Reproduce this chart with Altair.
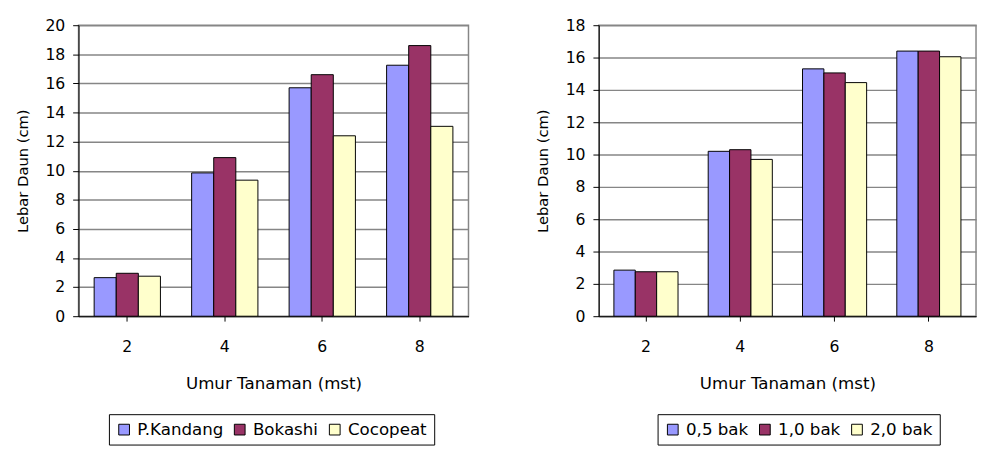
import altair as alt
import pandas as pd

weeks = ["2", "4", "6", "8"]

pupuk = ["P.Kandang", "Bokashi", "Cocopeat"]
p_kandang = [2.65, 9.85, 15.7, 17.25]
bokashi = [2.95, 10.9, 16.6, 18.6]
cocopeat = [2.75, 9.35, 12.4, 13.05]

dosis = ["0,5 bak", "1,0 bak", "2,0 bak"]
d05 = [2.85, 10.2, 15.3, 16.4]
d10 = [2.75, 10.3, 15.05, 16.4]
d20 = [2.75, 9.7, 14.45, 16.05]

colors = ["#9999FF", "#993366", "#FFFFCC"]
FONT = "DejaVu Sans"


def long_df(names, series):
    rows = []
    for name, vals in zip(names, series):
        for w, v in zip(weeks, vals):
            rows.append({"umur": w, "seri": name, "nilai": v})
    return pd.DataFrame(rows)


def panel(df, names, ymax, width, lx):
    return alt.Chart(df).mark_bar(stroke="black", strokeWidth=1).encode(
        x=alt.X("umur:N", sort=weeks, title="Umur Tanaman (mst)",
                scale=alt.Scale(paddingInner=0.32, paddingOuter=0.16),
                axis=alt.Axis(labelAngle=0, domainColor="black", tickColor="black",
                              tickSize=5, labelPadding=18, titlePadding=22,
                              labelFontSize=16, titleFontSize=17, titleFontWeight="normal",
                              labelFont=FONT, titleFont=FONT, labelColor="black", titleColor="black")),
        xOffset=alt.XOffset("seri:N", sort=names,
                            scale=alt.Scale(paddingInner=0, paddingOuter=0)),
        y=alt.Y("nilai:Q", title="Lebar Daun (cm)",
                scale=alt.Scale(domain=[0, ymax], nice=False),
                axis=alt.Axis(values=list(range(0, ymax + 1, 2)), domainColor="black",
                              tickColor="black", tickSize=6, labelPadding=8, titlePadding=15,
                              gridColor="#868686", gridWidth=1.5,
                              labelFontSize=16, titleFontSize=15, titleFontWeight="normal",
                              labelFont=FONT, titleFont=FONT, labelColor="black", titleColor="black")),
        color=alt.Color("seri:N", sort=names,
                        scale=alt.Scale(domain=names, range=colors),
                        legend=alt.Legend(orient="none", legendX=lx, legendY=397,
                                          direction="horizontal", title=None,
                                          strokeColor="black", padding=7,
                                          symbolType="square", symbolSize=120,
                                          symbolStrokeColor="black", symbolStrokeWidth=1,
                                          labelFontSize=17, labelFont=FONT, labelColor="black",
                                          columnPadding=8, labelOffset=5)),
    ).properties(width=width, height=297)


left = panel(long_df(pupuk, [p_kandang, bokashi, cocopeat]), pupuk, 20, 398, 31)
right = panel(long_df(dosis, [d05, d10, d20]), dosis, 18, 385, 60)

chart = alt.hconcat(left, right, spacing=66).resolve_scale(
    color="independent", x="independent", y="independent", xOffset="independent"
).properties(padding={"left": 6, "top": 4, "right": 0, "bottom": 0}).configure_view(
    stroke="#868686", strokeWidth=1.5
)

chart.save("out.html", embed_options={"renderer": "svg", "actions": False})
